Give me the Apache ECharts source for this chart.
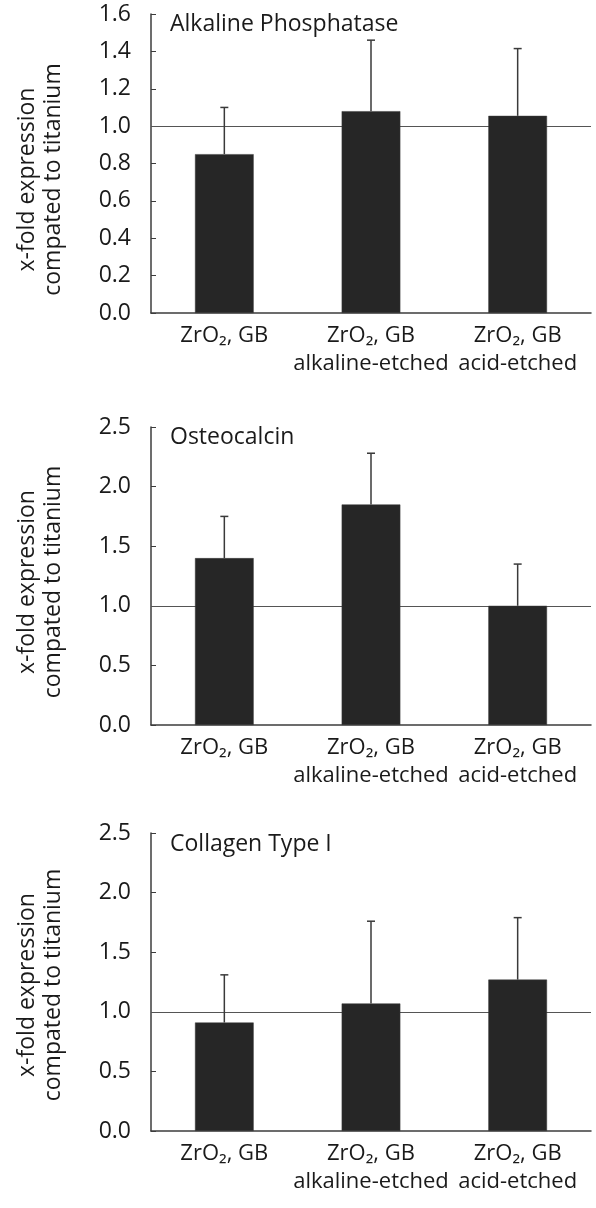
<!DOCTYPE html>
<html>
<head>
<meta charset="utf-8">
<script src="https://cdn.jsdelivr.net/npm/echarts@6/dist/echarts.min.js"></script>
<style>
html,body{margin:0;padding:0;background:#fff;}
#chart{width:596px;height:1208px;}
</style>
</head>
<body>
<div id="chart"></div>
<script>
// ---- data ----
const categories = ['ZrO\u2082, GB', 'ZrO\u2082, GB\nalkaline-etched', 'ZrO\u2082, GB\nacid-etched'];
const panelTitles = ['Alkaline Phosphatase', 'Osteocalcin', 'Collagen Type I'];
const yAxisName = 'x-fold expression\ncompated to titanium';
const alpMean = [0.85, 1.08, 1.055];
const alpSD   = [0.25, 0.38, 0.36];
const ocMean  = [1.40, 1.85, 1.00];
const ocSD    = [0.35, 0.43, 0.35];
const colMean = [0.91, 1.07, 1.27];
const colSD   = [0.40, 0.69, 0.52];
const yMax = [1.6, 2.5, 2.5];
const yInterval = [0.2, 0.5, 0.5];
const referenceValue = 1.0;

// ---- layout / style ----
const FONT = '"Open Sans", sans-serif';
const TXT = '#1a1a1a';
const AXIS = '#3c3c3c';
const grids = [
  {left: 151, width: 440, top: 14, height: 299},
  {left: 151, width: 440, top: 427, height: 298},
  {left: 151, width: 440, top: 833, height: 298}
];
const titleTops = [12, 425, 832];
const nameShift = [32, 12, 6];
const means = [alpMean, ocMean, colMean];
const sds = [alpSD, ocSD, colSD];

const chart = echarts.init(document.getElementById('chart'), null, {renderer: 'canvas'});

const option = {
  backgroundColor: '#fff',
  animation: false,
  title: panelTitles.map((t, i) => ({
    text: t, left: 170, top: titleTops[i], padding: 0,
    textStyle: {fontFamily: FONT, fontSize: 23, fontWeight: 'normal', color: TXT, lineHeight: 24}
  })),
  grid: grids,
  xAxis: grids.map((g, i) => ({
    type: 'category', gridIndex: i, data: categories,
    axisLine: {lineStyle: {color: AXIS, width: 1.5}},
    axisTick: {show: false},
    axisLabel: {fontFamily: FONT, fontSize: 22, color: TXT, lineHeight: 28, margin: 9, interval: 0}
  })),
  yAxis: grids.map((g, i) => ({
    type: 'value', gridIndex: i, min: 0, max: yMax[i], interval: yInterval[i],
    name: yAxisName, nameLocation: 'middle', nameGap: 85, nameRotate: 90,
    nameTextStyle: {fontFamily: FONT, fontSize: 23, color: TXT, lineHeight: 26, padding: [0, nameShift[i], 0, 0]},
    axisLine: {show: true, lineStyle: {color: AXIS, width: 1.5}},
    axisTick: {show: true, inside: true, length: 5, lineStyle: {color: AXIS, width: 1}},
    splitLine: {show: false},
    axisLabel: {fontFamily: FONT, fontSize: 23, color: TXT, margin: 20, formatter: v => v.toFixed(1)}
  })),
  series: []
};

means.forEach((m, i) => {
  option.series.push({
    type: 'bar', xAxisIndex: i, yAxisIndex: i, data: m, barWidth: '40%', z: 3,
    itemStyle: {color: '#262626', borderColor: '#3a3a3a', borderWidth: 0.5},
    markLine: {
      silent: true, symbol: 'none', z: 1, label: {show: false},
      lineStyle: {color: '#555', width: 1, type: 'solid'},
      data: [{yAxis: referenceValue}]
    }
  });
  option.series.push({
    type: 'custom', xAxisIndex: i, yAxisIndex: i, z: 4,
    data: m.map((v, k) => [k, v, sds[i][k]]),
    renderItem: (params, api) => {
      const x = api.value(0), mean = api.value(1), sd = api.value(2);
      const base = api.coord([x, mean]);
      const top = api.coord([x, mean + sd]);
      const st = {stroke: '#3a3a3a', lineWidth: 1.5};
      return {type: 'group', children: [
        {type: 'line', shape: {x1: base[0], y1: base[1], x2: top[0], y2: top[1]}, style: st},
        {type: 'line', shape: {x1: top[0] - 4, y1: top[1], x2: top[0] + 4, y2: top[1]}, style: st}
      ]};
    }
  });
});

chart.setOption(option);
</script>
</body>
</html>
